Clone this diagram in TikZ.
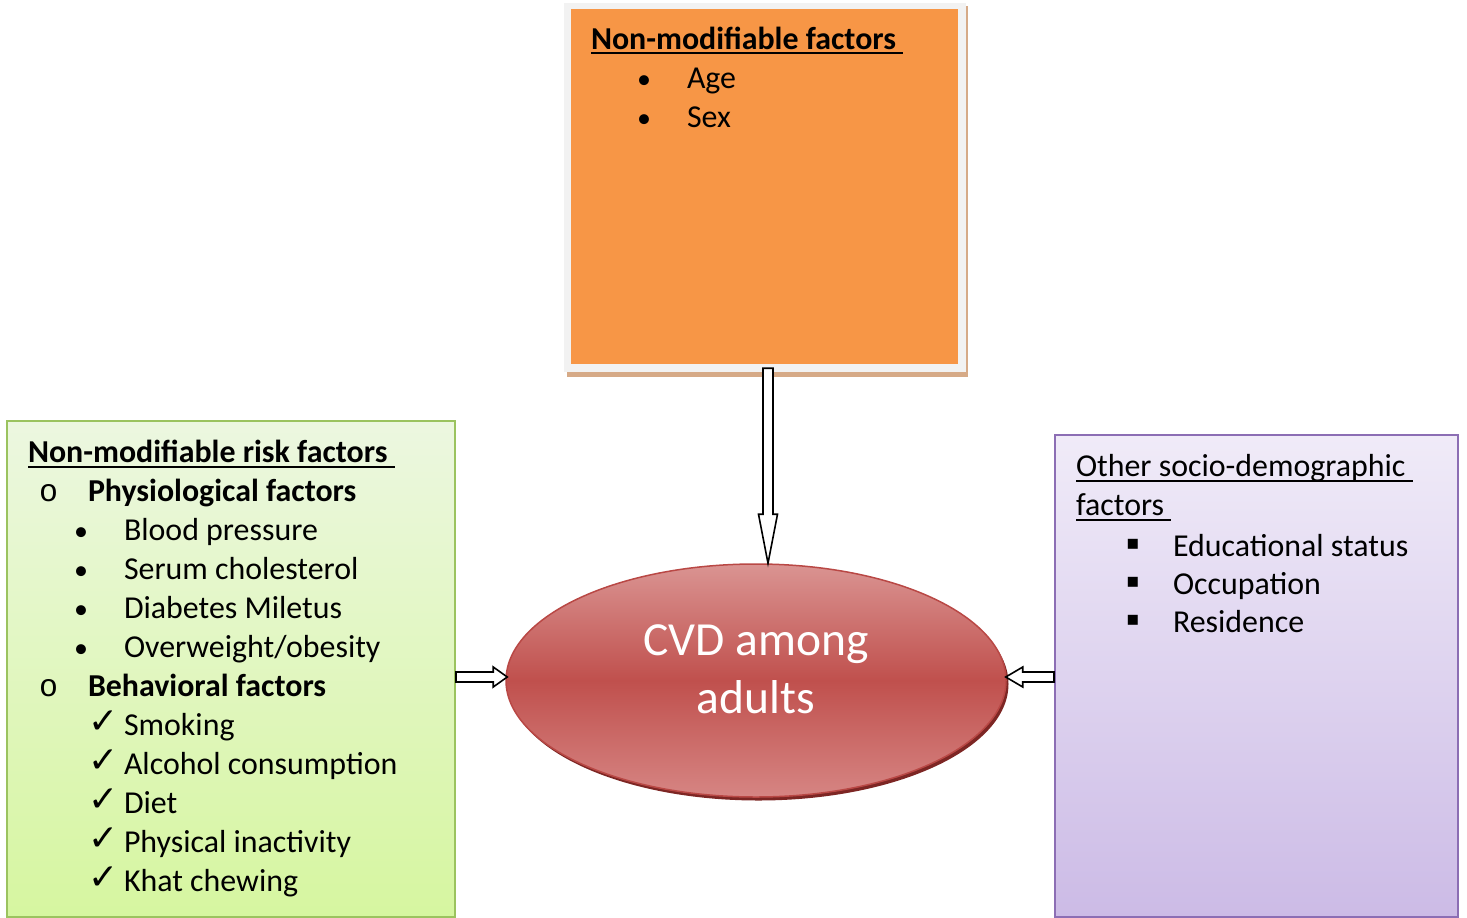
\documentclass[tikz,border=0pt]{standalone}
\usepackage{fontspec}
\setmainfont{Carlito}
\newfontfamily\dejavu{DejaVu Sans}
\newfontfamily\courfont{Liberation Mono}
\usetikzlibrary{calc,shapes.geometric}
\definecolor{orfill}{RGB}{247,150,70}
\definecolor{orframe}{RGB}{242,242,242}
\definecolor{orshadow}{RGB}{214,170,135}
\definecolor{gtop}{RGB}{236,247,224}
\definecolor{gbot}{RGB}{214,246,160}
\definecolor{gline}{RGB}{155,195,95}
\definecolor{ptop}{RGB}{240,235,248}
\definecolor{pbot}{RGB}{204,187,230}
\definecolor{pline}{RGB}{140,110,180}
\definecolor{etop}{RGB}{218,148,146}
\definecolor{emid}{RGB}{192,80,77}
\definecolor{ebot}{RGB}{214,133,131}
\definecolor{eline}{RGB}{185,72,69}
\definecolor{eshadow}{RGB}{125,38,36}
\newcommand\ulbox[2]{\setbox0\hbox{#2}\rlap{\rule[-#1]{\wd0}{2pt}}\box0}
\tikzset{
  txt/.style={anchor=base west, inner sep=0pt, outer sep=0pt, font=\fontsize{31.9}{38}\selectfont},
  bul/.style={anchor=base west, inner sep=0pt, font=\fontsize{28}{32}\selectfont},
  chk/.style={anchor=base west, inner sep=0pt, font=\dejavu\fontsize{36}{40}\selectfont},
  obul/.style={anchor=base west, inner sep=0pt, font=\courfont\fontsize{31.6}{38}\selectfont},
  sqb/.style={anchor=base west, inner sep=0pt, font=\dejavu\fontsize{20}{24}\selectfont},
  blk/.style={draw=black, fill=white, line width=1.6pt, line join=miter},
}
\begin{document}
\begin{tikzpicture}[x=1pt,y=-1pt]
\useasboundingbox (0,0) rectangle (1467,918);
% orange box
\fill[orshadow] (567,6) rectangle (968,377);
\fill[orframe] (564,3) rectangle (966,372);
\node[fill=orfill, minimum width=387pt, minimum height=355pt, inner sep=0pt] (nm) at (764.5,186.5) {};
\node[txt] (nmt) at (591,49) {\ulbox{5pt}{\bfseries Non-modifiable factors\ }};
\node[bul] (nb1) at (637,88) {•};
\node[txt] (n1) at (687,88) {Age};
\node[bul] (nb2) at (637,127) {•};
\node[txt] (n2) at (687,127) {Sex};
% green box
\node[draw=gline, line width=2pt, top color=gtop, bottom color=gbot, minimum width=448pt, minimum height=496pt, inner sep=0pt] (gbox) at (231,669) {};
\node[txt] (gt) at (28,462) {\ulbox{6pt}{\bfseries Non-modifiable risk factors\ }};
\node[obul] (go1) at (39,501) {o};
\node[txt] (gh1) at (88,501) {\bfseries Physiological factors};
\node[bul] (gb1) at (74,540) {•};
\node[txt] (g1) at (124,540) {Blood pressure};
\node[bul] (gb2) at (74,579) {•};
\node[txt] (g2) at (124,579) {Serum cholesterol};
\node[bul] (gb3) at (74,618) {•};
\node[txt] (g3) at (124,618) {Diabetes Miletus};
\node[bul] (gb4) at (74,657) {•};
\node[txt] (g4) at (124,657) {Overweight/obesity};
\node[obul] (go2) at (39,696) {o};
\node[txt] (gh2) at (88,696) {\bfseries Behavioral factors};
\node[chk] (gc1) at (88,733) {✓};
\node[txt] (g5) at (124,735) {Smoking};
\node[chk] (gc2) at (88,772) {✓};
\node[txt] (g6) at (124,774) {Alcohol consumption};
\node[chk] (gc3) at (88,811) {✓};
\node[txt] (g7) at (124,813) {Diet};
\node[chk] (gc4) at (88,850) {✓};
\node[txt] (g8) at (124,852) {Physical inactivity};
\node[chk] (gc5) at (88,889) {✓};
\node[txt] (g9) at (124,891) {Khat chewing};
% purple box
\node[draw=pline, line width=2pt, top color=ptop, bottom color=pbot, minimum width=403pt, minimum height=482pt, inner sep=0pt] (pbox) at (1256.5,676) {};
\node[txt] (pt1) at (1076,476) {\ulbox{6pt}{Other socio-demographic\ }};
\node[txt] (pt2) at (1076,515.5) {\ulbox{5pt}{factors\ }};
\node[sqb] (ps1) at (1126,549) {▪};
\node[txt] (p1) at (1173,556.5) {Educational status};
\node[sqb] (ps2) at (1126,587) {▪};
\node[txt] (p2) at (1173,594.5) {Occupation};
\node[sqb] (ps3) at (1126,625) {▪};
\node[txt] (p3) at (1173,632.5) {Residence};
% ellipse
\fill[eshadow] (758.5,684) ellipse [x radius=250, y radius=116.5];
\node[ellipse, draw=eline, line width=1.5pt, top color=etop, bottom color=ebot, middle color=emid, minimum width=500pt, minimum height=233pt, inner sep=0pt] (cvd) at (756,680.5) {};
\node[anchor=base, inner sep=0pt, text=white, font=\fontsize{47.5}{58}\selectfont] (c1) at (756,655) {CVD among};
\node[anchor=base, inner sep=0pt, text=white, font=\fontsize{47.5}{58}\selectfont] (c2) at (756,713) {adults};
% arrows
\coordinate (a1s) at ($(nm.south)+(3.5,4)$);
\coordinate (a1t) at ($(cvd.north)+(12,0)$);
\draw[blk] ($(a1s)+(-5,0)$) -- ($(a1t)+(-5,-49)$) -- ($(a1t)+(-9.5,-49)$) -- (a1t) -- ($(a1t)+(9.5,-49)$) -- ($(a1t)+(5,-49)$) -- ($(a1s)+(5,0)$) -- cycle;
\coordinate (a2s) at ($(gbox.east)+(0,8)$);
\coordinate (a2t) at ($(cvd.west)+(2,-3.5)$);
\draw[blk] ($(a2s)+(0,-5)$) -- ($(a2t)+(-14,-5)$) -- ($(a2t)+(-14,-10)$) -- (a2t) -- ($(a2t)+(-14,10)$) -- ($(a2t)+(-14,5)$) -- ($(a2s)+(0,5)$) -- cycle;
\coordinate (a3s) at ($(pbox.west)+(0,1)$);
\coordinate (a3t) at ($(cvd.east)+(-1,-3.5)$);
\draw[blk] ($(a3s)+(0,-5)$) -- ($(a3t)+(17,-5)$) -- ($(a3t)+(17,-10)$) -- (a3t) -- ($(a3t)+(17,10)$) -- ($(a3t)+(17,5)$) -- ($(a3s)+(0,5)$) -- cycle;
\end{tikzpicture}
\end{document}
